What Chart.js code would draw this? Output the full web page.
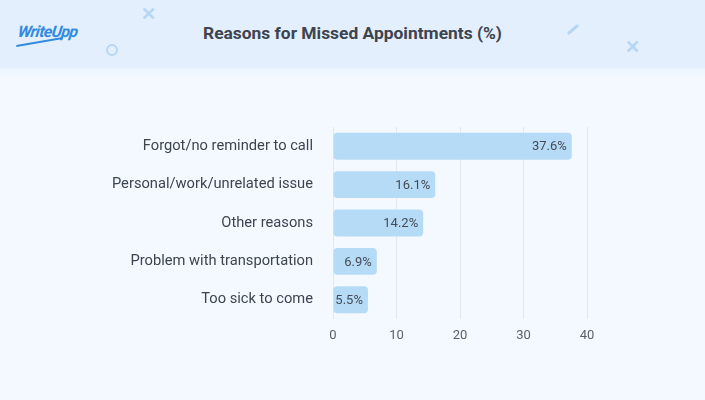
<!DOCTYPE html>
<html>
<head>
<meta charset="utf-8">
<script src="https://cdn.jsdelivr.net/npm/chart.js@4"></script>
<style>
  html, body { margin: 0; padding: 0; }
  body { width: 705px; height: 400px; background: #f4f9ff; font-family: Roboto, sans-serif; position: relative; overflow: hidden; }
  #header { position: absolute; left: 0; top: 0; width: 705px; height: 68px; background: #e3effc; }
  #fade { position: absolute; left: 0; top: 68px; width: 705px; height: 10px; background: linear-gradient(#ebf4fd, #f4f9ff); }
  #title { position: absolute; left: 0; top: 23px; width: 705px; text-align: center; font-size: 17.4px; font-weight: 700; color: #3d4450; }
  #logo { position: absolute; left: 18px; top: 22px; font-size: 16px; font-weight: 700; font-style: italic; color: #2f8ae0; letter-spacing: -0.6px; transform: skewX(-8deg); }
  #logo::after { content: ""; position: absolute; left: 0; top: 19px; width: 46px; height: 2px; background: #2f8ae0; transform: rotate(-10deg); }
  .deco { position: absolute; color: #b5d6f5; font-weight: 700; }
  #wrap { position: absolute; left: 0; top: 0; width: 705px; height: 400px; }
</style>
</head>
<body>
<div id="header"></div>
<div id="fade"></div>
<div class="deco" style="left:141px;top:3px;font-size:18px;">✕</div>
<div class="deco" style="left:625px;top:36px;font-size:18px;">✕</div>
<div class="deco" style="left:106px;top:44px;width:8px;height:8px;border:2px solid #b5d6f5;border-radius:50%;"></div>
<div class="deco" style="left:566px;top:28px;width:14px;height:3px;background:#b5d6f5;border-radius:2px;transform:rotate(-40deg);"></div>
<div id="logo">WriteUpp</div>
<div id="title">Reasons for Missed Appointments (%)</div>
<div id="wrap"><canvas id="chart" width="705" height="400"></canvas></div>
<script>
const reasons = [
    'Forgot/no reminder to call',
    'Personal/work/unrelated issue',
    'Other reasons',
    'Problem with transportation',
    'Too sick to come'
];
const percents = [37.6, 16.1, 14.2, 6.9, 5.5];
const xTicks = [0, 10, 20, 30, 40];

// value labels drawn inside the bar end
const barLabels = {
    id: 'barLabels',
    afterDatasetsDraw(chart) {
        const ctx = chart.ctx;
        const meta = chart.getDatasetMeta(0);
        ctx.save();
        ctx.font = '13px Roboto, sans-serif';
        ctx.fillStyle = '#454b55';
        ctx.textAlign = 'right';
        ctx.textBaseline = 'middle';
        meta.data.forEach((bar, i) => {
            ctx.fillText(percents[i].toFixed(1) + '%', bar.x - 5, bar.y + 1);
        });
        ctx.restore();
    }
};

const ctx = document.getElementById('chart').getContext('2d');
new Chart(ctx, {
    type: 'bar',
    data: {
        labels: reasons,
        datasets: [{
            data: percents,
            backgroundColor: '#b5dbf7',
            borderRadius: 4,
            borderSkipped: false,
            categoryPercentage: 0.7,
            barPercentage: 1
        }]
    },
    options: {
        indexAxis: 'y',
        responsive: false,
        animation: false,
        layout: { padding: { top: 127, right: 118, bottom: 0, left: 0 } },
        plugins: { legend: { display: false }, tooltip: { enabled: false } },
        scales: {
            x: {
                min: 0,
                max: 40,
                afterBuildTicks: scale => { scale.ticks = xTicks.map(v => ({ value: v })); },
                afterFit: scale => { scale.height = 81; },
                grid: { color: '#e3e8ef', drawTicks: false },
                border: { display: false },
                ticks: { padding: 9, color: '#5b616b', font: { family: 'Roboto', size: 13 } }
            },
            y: {
                afterFit: scale => { scale.width = 333; },
                grid: { display: false },
                border: { display: false },
                ticks: { padding: 12, color: '#3d4450', font: { family: 'Roboto', size: 14.7 } }
            }
        }
    },
    plugins: [barLabels]
});
</script>
</body>
</html>
